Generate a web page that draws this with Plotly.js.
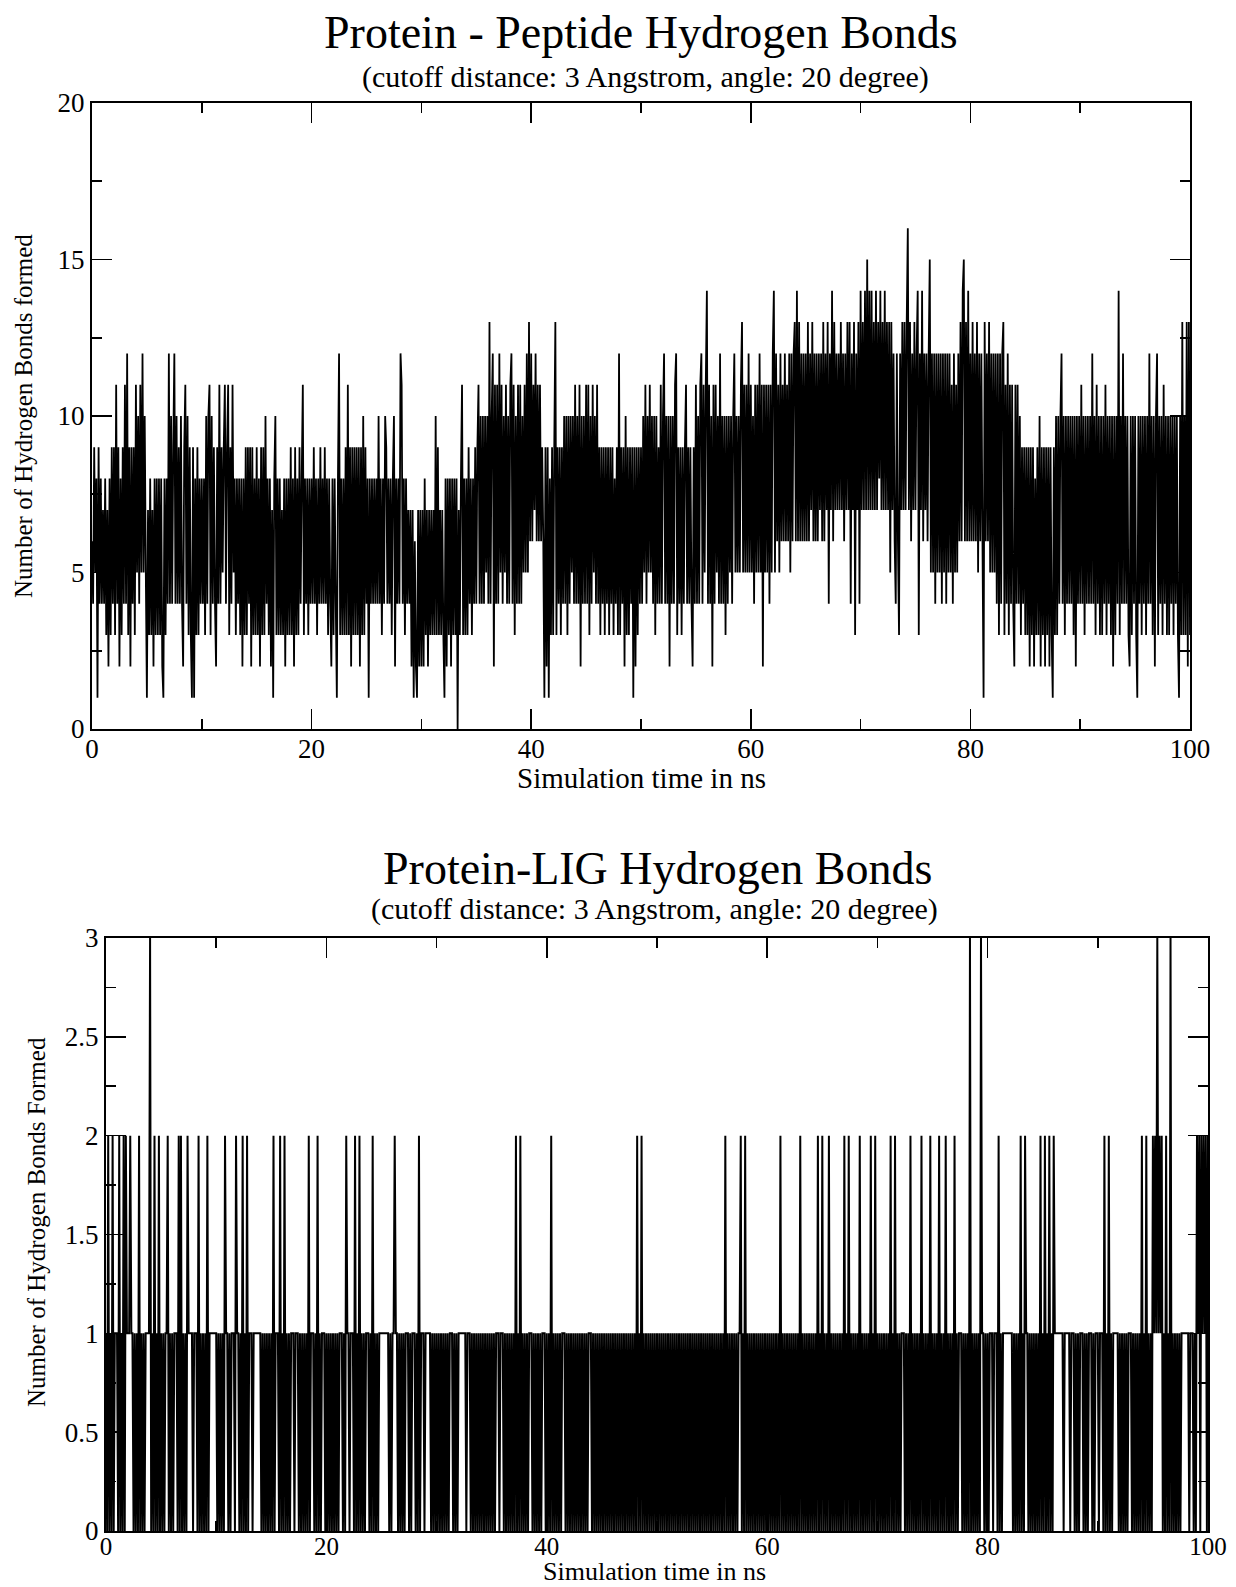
<!DOCTYPE html>
<html>
<head>
<meta charset="utf-8">
<script src="https://cdn.plot.ly/plotly-3.0.1.min.js"></script>
<style>
  html, body { margin: 0; padding: 0; background: #ffffff; }
  #chart { width: 1236px; height: 1587px; }
</style>
</head>
<body>
<div id="chart"></div>
<script>
const timeStepNs = 0.1;

// Protein - Peptide hydrogen bonds, one array per 10 ns block (10 samples per ns)
const pepHB_00_10 = [
  6,4,9,5,8,1,9,4,8,4,  7,4,8,3,7,2,8,3,9,4,  9,3,11,4,9,2,8,3,9,4,  11,4,12,3,9,2,9,4,9,3,  11,5,10,4,11,5,12,5,10,5,
  1,7,3,8,3,7,2,8,3,8,  3,8,3,8,2,1,8,3,8,4,  12,4,10,4,9,12,4,10,4,9,  4,10,4,2,9,11,4,10,3,9,  3,1,9,1,8,3,9,3,8,4];
const pepHB_10_20 = [
  8,4,8,3,10,4,10,11,3,10,  4,9,4,2,9,4,11,4,9,5,  9,11,4,9,11,3,9,4,11,5,  8,3,8,4,8,3,8,2,8,3,  9,3,9,4,9,2,9,3,8,3,
  9,3,8,2,9,3,9,3,10,4,  8,3,8,2,7,1,8,10,3,8,  3,8,3,7,3,8,2,8,3,8,  3,9,3,8,2,9,3,8,3,9,  4,8,11,3,8,4,8,3,8,4];
const pepHB_20_30 = [
  8,4,9,4,8,3,8,4,9,4,  8,4,9,4,8,3,8,4,2,8,  3,8,4,1,8,12,3,8,3,8,  3,9,3,11,3,9,2,9,3,9,  3,9,3,9,2,9,3,10,3,9,
  4,8,1,8,4,8,4,8,4,8,  4,10,4,8,3,8,4,10,9,4,  8,4,8,3,8,10,2,8,4,8,  4,12,11,4,8,3,8,4,7,4,  7,2,7,1,6,2,1,7,2,7];
const pepHB_30_40 = [
  2,7,2,8,3,7,2,7,3,7,  3,7,3,10,3,9,3,7,3,7,  3,1,8,2,8,3,8,2,8,3,  8,3,8,0,7,3,8,11,3,8,  3,8,3,9,4,8,3,8,4,9,
  4,9,11,4,10,4,10,4,10,5,  10,4,13,4,10,12,2,11,4,11,  4,12,5,11,4,10,5,11,4,10,  4,11,12,4,11,3,10,4,11,4,  11,4,10,5,11,5,12,5,13,6];
const pepHB_40_50 = [
  12,6,11,7,12,6,11,6,11,6,  9,6,1,9,2,9,1,8,3,9,  3,9,13,3,9,4,9,3,9,4,  10,4,10,3,10,4,10,5,10,4,  11,4,10,4,11,2,10,4,10,4,
  11,4,11,3,10,4,11,5,10,4,  11,4,9,3,9,4,9,3,9,4,  9,3,9,4,9,3,8,4,9,3,  12,3,9,4,9,2,10,3,9,3,  9,4,9,1,9,2,9,3,9,4];
const pepHB_50_60 = [
  9,4,10,5,11,4,10,5,11,5,  10,4,10,3,10,4,9,4,11,4,  10,12,4,10,4,10,2,10,4,10,  4,11,12,3,9,4,9,3,9,4,  9,11,4,9,4,9,4,2,9,4,
  11,4,10,4,11,12,4,11,5,11,  14,4,11,4,10,2,11,4,11,5,  10,4,12,4,10,4,10,3,10,4,  10,5,10,4,10,12,5,10,5,10,  5,11,13,5,11,5,11,5,12,5];
const pepHB_60_70 = [
  11,5,10,4,11,5,11,5,12,5,  11,2,11,5,11,5,11,4,11,5,  12,14,5,12,6,11,5,12,6,11,  6,12,6,11,6,12,5,12,6,12,  13,6,14,6,13,6,12,6,12,6,
  12,6,13,6,12,7,13,6,12,6,  12,6,12,7,12,6,13,6,12,7,  13,4,12,7,14,6,13,7,12,7,  12,7,13,7,12,6,12,7,13,7,  13,4,12,7,13,3,12,7,13,4];
const pepHB_70_80 = [
  14,7,13,7,14,7,15,7,14,7,  14,7,13,7,14,7,13,8,14,7,  13,7,14,7,13,7,13,5,13,7,  12,6,4,12,6,3,12,7,13,7,  13,7,13,16,7,13,6,12,7,13,
  7,12,14,3,12,7,14,6,12,7,  12,6,12,15,5,12,5,12,4,12,  5,12,5,12,4,12,5,12,4,12,  5,12,5,11,4,12,5,11,5,12,  6,13,6,14,15,6,13,6,14,6];
const pepHB_80_90 = [
  12,6,13,6,12,6,13,5,12,6,  12,6,1,13,6,12,6,13,5,12,  5,12,5,12,4,12,3,12,4,12,  13,3,11,4,12,3,11,4,11,4,  2,11,4,11,4,10,3,9,4,9,
  3,9,3,9,2,9,3,9,2,8,  3,9,3,10,2,9,3,9,2,9,  3,9,2,9,3,1,9,3,10,3,  10,4,10,12,4,10,3,10,4,10,  4,10,4,10,3,10,2,10,4,10];
const pepHB_90_100 = [
  4,11,4,10,3,10,4,10,4,10,  4,12,4,10,3,11,4,10,3,10,  3,10,4,11,3,10,4,10,3,10,  2,10,3,10,4,14,3,10,4,12,  4,10,4,10,3,2,10,3,10,4,
  10,3,1,10,4,10,3,10,4,10,  3,10,4,12,4,10,3,10,2,10,  12,3,10,4,10,3,11,4,10,3,  10,3,10,4,10,3,10,4,10,3,  1,10,3,13,3,10,3,13,2,13,
  3];

// Protein - LIG hydrogen bonds, one array per 10 ns block (10 samples per ns)
const ligHB_00_10 = [
  1,0,2,0,1,0,2,0,1,1,  1,0,2,0,1,0,2,0,2,1,  1,1,2,1,1,0,1,0,1,0,  2,0,1,0,1,0,1,1,1,1,  3,0,1,0,2,0,1,0,2,0,
  1,0,1,0,1,1,2,0,1,0,  1,0,1,1,1,0,2,0,2,0,  1,0,1,0,2,1,1,1,1,0,  1,1,1,0,2,0,1,0,1,0,  1,0,2,0,1,1,1,1,1,1];
const ligHB_10_20 = [
  1,0,1,0,1,0,1,0,2,1,  1,0,1,0,1,1,1,0,2,1,  1,0,1,0,2,0,1,0,2,0,  1,1,1,0,1,1,1,1,1,1,  1,0,1,0,1,0,1,0,1,0,
  1,0,2,0,1,1,1,0,2,0,  1,0,2,0,1,0,1,0,1,1,  1,0,1,1,1,0,1,0,1,0,  1,0,1,0,2,0,1,1,1,0,  1,0,2,0,1,0,1,1,1,0];
const ligHB_20_30 = [
  1,0,1,0,1,0,1,0,1,0,  1,0,1,1,1,0,1,0,2,1,  1,0,1,1,1,0,2,0,1,0,  2,0,1,0,1,0,1,1,1,0,  1,0,2,0,1,0,1,0,1,1,
  1,1,1,1,1,1,1,0,1,0,  1,1,2,1,1,0,1,0,1,0,  1,0,1,1,1,0,1,0,1,1,  1,0,1,0,2,0,1,1,1,0,  1,1,1,1,1,0,1,0,1,0];
const ligHB_30_40 = [
  1,0,1,0,1,0,1,0,1,0,  1,0,1,1,1,0,1,0,1,0,  1,1,1,1,1,1,1,0,1,1,  1,0,1,0,1,0,1,0,1,0,  1,0,1,0,1,0,1,0,1,0,
  1,0,1,0,1,1,1,0,1,1,  1,0,1,0,1,0,1,0,1,0,  1,0,2,0,1,0,2,0,1,0,  1,0,1,0,1,1,1,0,1,0,  1,0,1,0,1,0,1,1,1,0];
const ligHB_40_50 = [
  1,0,1,0,2,0,1,0,1,0,  1,0,1,0,1,1,1,0,1,0,  1,0,1,0,1,0,1,0,1,0,  1,0,1,0,1,0,1,0,1,1,  1,0,1,0,1,0,1,0,1,0,
  1,0,1,0,1,0,1,0,1,0,  1,0,1,0,1,0,1,0,1,0,  1,0,1,0,1,0,1,0,1,0,  1,0,2,0,1,0,2,0,1,0,  1,0,1,0,1,0,1,0,1,0];
const ligHB_50_60 = [
  1,0,1,0,1,0,1,0,1,0,  1,0,1,0,1,0,1,0,1,0,  1,0,1,0,1,0,1,0,1,0,  1,0,1,0,1,0,1,0,1,0,  1,0,1,0,1,0,1,0,1,0,
  1,0,1,0,1,0,1,0,1,0,  1,0,2,0,1,0,1,0,1,0,  1,0,1,0,1,1,2,0,1,0,  2,0,1,0,1,0,1,0,1,0,  1,0,1,0,1,0,1,0,1,0];
const ligHB_60_70 = [
  1,0,1,0,1,0,1,0,1,0,  1,0,2,0,1,0,1,0,1,0,  1,0,1,0,1,0,1,0,1,0,  2,0,1,0,1,0,1,0,1,0,  1,0,1,0,1,0,2,0,1,0,
  2,0,1,0,1,0,2,0,1,0,  1,0,1,0,1,0,1,0,1,0,  2,0,1,0,2,0,1,0,1,0,  1,0,1,0,2,0,1,0,1,0,  1,0,1,0,2,0,1,0,2,0];
const ligHB_70_80 = [
  1,0,1,0,1,0,1,0,1,0,  1,0,2,0,1,0,2,0,1,0,  1,0,1,1,1,0,1,0,1,0,  2,0,1,0,1,0,1,0,1,0,  2,0,1,0,1,0,1,0,2,0,
  1,0,1,0,1,0,2,0,1,0,  1,0,2,0,1,0,1,0,1,0,  2,0,1,0,1,1,1,0,1,0,  1,0,1,0,3,0,1,0,1,0,  1,0,1,0,3,1,1,0,1,0];
const ligHB_80_90 = [
  1,0,1,1,1,0,1,1,1,0,  2,0,1,0,1,1,1,1,1,1,  1,1,1,0,1,0,1,0,1,0,  2,0,1,0,2,1,1,0,1,0,  1,0,1,0,1,0,1,0,2,0,
  1,0,2,0,1,0,2,0,1,0,  2,1,1,1,1,1,1,1,1,0,  1,1,1,1,1,0,1,1,1,0,  1,0,1,0,1,1,1,0,1,0,  1,0,1,1,1,0,1,0,1,1];
const ligHB_90_100 = [
  1,0,1,1,1,0,2,0,1,0,  2,0,1,0,1,1,1,1,1,0,  1,0,1,0,1,0,1,0,1,1,  1,0,1,0,1,0,1,0,1,0,  2,0,1,0,2,0,1,0,1,0,
  2,1,2,1,3,1,2,1,2,0,  1,0,2,0,1,0,3,0,1,0,  1,0,1,0,1,0,1,1,1,1,  1,1,1,0,1,1,1,0,1,0,  2,1,2,0,2,1,2,1,2,0,
  2];

// Axis tick values
const xTicks = [0, 20, 40, 60, 80, 100];
const yTicksPep = [0, 5, 10, 15, 20];
const yTicksLig = [0, 0.5, 1, 1.5, 2, 2.5, 3];

// Texts
const titlePep = 'Protein - Peptide Hydrogen Bonds';
const titleLig = 'Protein-LIG Hydrogen Bonds';
const subTitle = '(cutoff distance: 3 Angstrom, angle: 20 degree)';
const xTitle = 'Simulation time in ns';
const yTitlePep = 'Number of Hydrogen Bonds formed';
const yTitleLig = 'Number of Hydrogen Bonds Formed';

// ---- Build series ----
const pepValues = [].concat(pepHB_00_10, pepHB_10_20, pepHB_20_30, pepHB_30_40, pepHB_40_50,
                            pepHB_50_60, pepHB_60_70, pepHB_70_80, pepHB_80_90, pepHB_90_100);
const ligValues = [].concat(ligHB_00_10, ligHB_10_20, ligHB_20_30, ligHB_30_40, ligHB_40_50,
                            ligHB_50_60, ligHB_60_70, ligHB_70_80, ligHB_80_90, ligHB_90_100);
const pepTime = pepValues.map((_, i) => +(i * timeStepNs).toFixed(2));
const ligTime = ligValues.map((_, i) => +(i * timeStepNs).toFixed(2));

const FONT = '"Liberation Serif", "Times New Roman", Times, serif';
const W = 1236, H = 1587;
const px = v => v / W;          // x pixel -> paper
const py = v => 1 - v / H;      // y pixel -> paper

const traces = [
  { x: pepTime, y: pepValues, type: 'scatter', mode: 'lines', xaxis: 'x', yaxis: 'y',
    line: { color: '#000000', width: 1.8, simplify: false }, hoverinfo: 'skip', showlegend: false },
  { x: ligTime, y: ligValues, type: 'scatter', mode: 'lines', xaxis: 'x2', yaxis: 'y2',
    line: { color: '#000000', width: 2.0, simplify: false }, hoverinfo: 'skip', showlegend: false }
];

function axisBase(extra) {
  return Object.assign({
    showline: true, linecolor: '#000000', linewidth: 2, mirror: 'ticks',
    ticks: 'inside', ticklen: 20, tickwidth: 1.6, tickcolor: '#000000',
    showgrid: false, zeroline: false, fixedrange: true,
    tickfont: { family: FONT, size: 27, color: '#000000' },
  }, extra);
}
const minorX = { dtick: 10, tick0: 0, ticks: 'inside', ticklen: 10, tickwidth: 1.6, tickcolor: '#000000' };

const layout = {
  width: W, height: H,
  margin: { l: 0, r: 0, t: 0, b: 0 },
  paper_bgcolor: '#ffffff', plot_bgcolor: '#ffffff',
  showlegend: false,
  xaxis: axisBase({ domain: [px(92), px(1190)], range: [0, 100], anchor: 'y',
    tickmode: 'array', tickvals: xTicks, ticklabelstandoff: -5, minor: minorX }),
  yaxis: axisBase({ domain: [py(729), py(103)], range: [0, 20], anchor: 'x',
    tickmode: 'array', tickvals: yTicksPep, ticklabelstandoff: 0,
    minor: { dtick: 2.5, tick0: 0, ticks: 'inside', ticklen: 10, tickwidth: 1.6, tickcolor: '#000000' } }),
  xaxis2: axisBase({ domain: [px(106), px(1208)], range: [0, 100], anchor: 'y2',
    tickmode: 'array', tickvals: xTicks, ticklabelstandoff: -8, minor: minorX,
    tickfont: { family: FONT, size: 25, color: '#000000' } }),
  yaxis2: axisBase({ domain: [py(1531), py(938)], range: [0, 3], anchor: 'x2',
    tickmode: 'array', tickvals: yTicksLig, ticklabelstandoff: 0,
    minor: { dtick: 0.25, tick0: 0, ticks: 'inside', ticklen: 10, tickwidth: 1.6, tickcolor: '#000000' } }),
  annotations: [
    { text: titlePep, x: px(641), y: py(32), xref: 'paper', yref: 'paper', showarrow: false,
      xanchor: 'center', yanchor: 'middle', font: { family: FONT, size: 46, color: '#000000' } },
    { text: subTitle, x: px(645), y: py(77), xref: 'paper', yref: 'paper', showarrow: false,
      xanchor: 'center', yanchor: 'middle', font: { family: FONT, size: 30, color: '#000000' } },
    { text: xTitle, x: px(641), y: py(778), xref: 'paper', yref: 'paper', showarrow: false,
      xanchor: 'center', yanchor: 'middle', font: { family: FONT, size: 29, color: '#000000' } },
    { text: yTitlePep, x: px(23), y: py(416), xref: 'paper', yref: 'paper', showarrow: false,
      textangle: -90, xanchor: 'center', yanchor: 'middle', font: { family: FONT, size: 25, color: '#000000' } },
    { text: titleLig, x: px(658), y: py(868), xref: 'paper', yref: 'paper', showarrow: false,
      xanchor: 'center', yanchor: 'middle', font: { family: FONT, size: 46, color: '#000000' } },
    { text: subTitle, x: px(655), y: py(909), xref: 'paper', yref: 'paper', showarrow: false,
      xanchor: 'center', yanchor: 'middle', font: { family: FONT, size: 30, color: '#000000' } },
    { text: xTitle, x: px(655), y: 0, xref: 'paper', yref: 'paper', showarrow: false,
      xanchor: 'center', yanchor: 'bottom', borderpad: 0, font: { family: FONT, size: 26, color: '#000000' } },
    { text: yTitleLig, x: px(36), y: py(1222), xref: 'paper', yref: 'paper', showarrow: false,
      textangle: -90, xanchor: 'center', yanchor: 'middle', font: { family: FONT, size: 25, color: '#000000' } }
  ]
};

Plotly.newPlot('chart', traces, layout, { staticPlot: true, displayModeBar: false });
</script>
</body>
</html>
